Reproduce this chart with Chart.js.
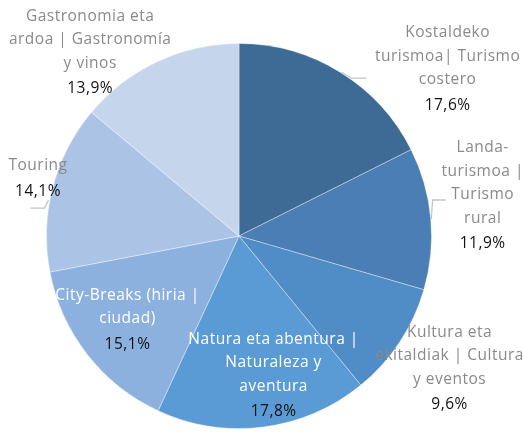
<!DOCTYPE html>
<html>
<head>
<meta charset="utf-8">
<script src="https://cdn.jsdelivr.net/npm/chart.js@4.4.0/dist/chart.umd.min.js"></script>
<style>
html,body{margin:0;padding:0;background:#fff;}
#wrap{width:523px;height:432px;position:relative;}
</style>
</head>
<body>
<div id="wrap"><canvas id="c" width="523" height="432"></canvas></div>
<script>
// ---- data ----
const categories = [
  "Kostaldeko turismoa| Turismo costero",
  "Landa-turismoa | Turismo rural",
  "Kultura eta ekitaldiak | Cultura y eventos",
  "Natura eta abentura | Naturaleza y aventura",
  "City-Breaks (hiria | ciudad)",
  "Touring",
  "Gastronomia eta ardoa | Gastronomía y vinos"
];
const labelLines = [
  ["Kostaldeko", "turismoa| Turismo", "costero"],
  ["Landa-", "turismoa |", "Turismo", "rural"],
  ["Kultura eta", "ekitaldiak | Cultura", "y eventos"],
  ["Natura eta abentura |", "Naturaleza y", "aventura"],
  ["City-Breaks (hiria |", "ciudad)"],
  ["Touring"],
  ["Gastronomia eta", "ardoa | Gastronomía", "y vinos"]
];
const shares = [17.6, 11.9, 9.6, 17.8, 15.1, 14.1, 13.9];
const percentLabels = ["17,6%", "11,9%", "9,6%", "17,8%", "15,1%", "14,1%", "13,9%"];

// ---- styles / layout ----
const sliceColors = ["#3e6a96", "#4a7eb4", "#508cc5", "#5b9bd5", "#8cb1de", "#abc4e6", "#c5d6ec"];
const nameColors = ["#8a8a8a", "#8a8a8a", "#8a8a8a", "#ffffff", "#ffffff", "#8a8a8a", "#8a8a8a"];
// label anchor: point at mid angle, radius*k, then shifted by (dx,dy); leader points relative to label centre
const labelLayout = [
  {k: 1, dx: 107.5, dy: -3, leader: [[-106, 3], [-96, 9], [-81, 9]]},
  {k: 1, dx: 52, dy: -22.5, leader: [[-51.5, 23], [-50, 4], [-37, 4]]},
  {k: 1, dx: 50, dy: 26.5},
  {k: 0.73, dx: 17, dy: 0},
  {k: 0.725, dx: -1.5, dy: -2},
  {k: 1, dx: -14.7, dy: -9, leader: [[10.5, 21.5], [6.5, 29.5], [-7.5, 29.5]]},
  {k: 1, dx: -67.4, dy: -9}
];
const FONT = '15.5px "Open Sans", sans-serif';
const LH = 23.5, PCT_GAP = 25.5;

const labelPlugin = {
  id: 'sliceLabels',
  afterDatasetsDraw(chart) {
    const ctx = chart.ctx;
    const meta = chart.getDatasetMeta(0);
    meta.data.forEach((arc, i) => {
      const p = arc.getProps(['x', 'y', 'startAngle', 'endAngle', 'outerRadius'], true);
      const mid = (p.startAngle + p.endAngle) / 2;
      const L = labelLayout[i];
      const cx = p.x + Math.cos(mid) * p.outerRadius * L.k + L.dx;
      const cy = p.y + Math.sin(mid) * p.outerRadius * L.k + L.dy;
      const lines = labelLines[i];
      const total = (lines.length - 1) * LH + PCT_GAP;
      let y0 = cy - total / 2;
      ctx.save();
      if (L.leader) {
        ctx.strokeStyle = '#c4c4c4';
        ctx.lineWidth = 1.3;
        ctx.beginPath();
        L.leader.forEach((pt, j) => {
          const X = cx + pt[0], Y = cy + pt[1];
          if (j === 0) ctx.moveTo(X, Y); else ctx.lineTo(X, Y);
        });
        ctx.stroke();
      }
      ctx.font = FONT;
      try { ctx.letterSpacing = '0.5px'; } catch (e) {}
      ctx.textAlign = 'center';
      ctx.textBaseline = 'middle';
      ctx.fillStyle = nameColors[i];
      lines.forEach((t, j) => ctx.fillText(t, cx, y0 + j * LH));
      ctx.fillStyle = '#111111';
      ctx.fillText(percentLabels[i], cx, y0 + (lines.length - 1) * LH + PCT_GAP);
      ctx.restore();
    });
  }
};

new Chart(document.getElementById('c'), {
  type: 'pie',
  data: {
    labels: categories,
    datasets: [{
      data: shares,
      backgroundColor: sliceColors,
      borderColor: 'rgba(255,255,255,0.35)',
      borderWidth: 1
    }]
  },
  options: {
    responsive: false,
    animation: false,
    layout: {padding: {left: 46, right: 91, top: 43, bottom: 3}},
    plugins: {legend: {display: false}, tooltip: {enabled: false}}
  },
  plugins: [labelPlugin]
});
</script>
</body>
</html>
